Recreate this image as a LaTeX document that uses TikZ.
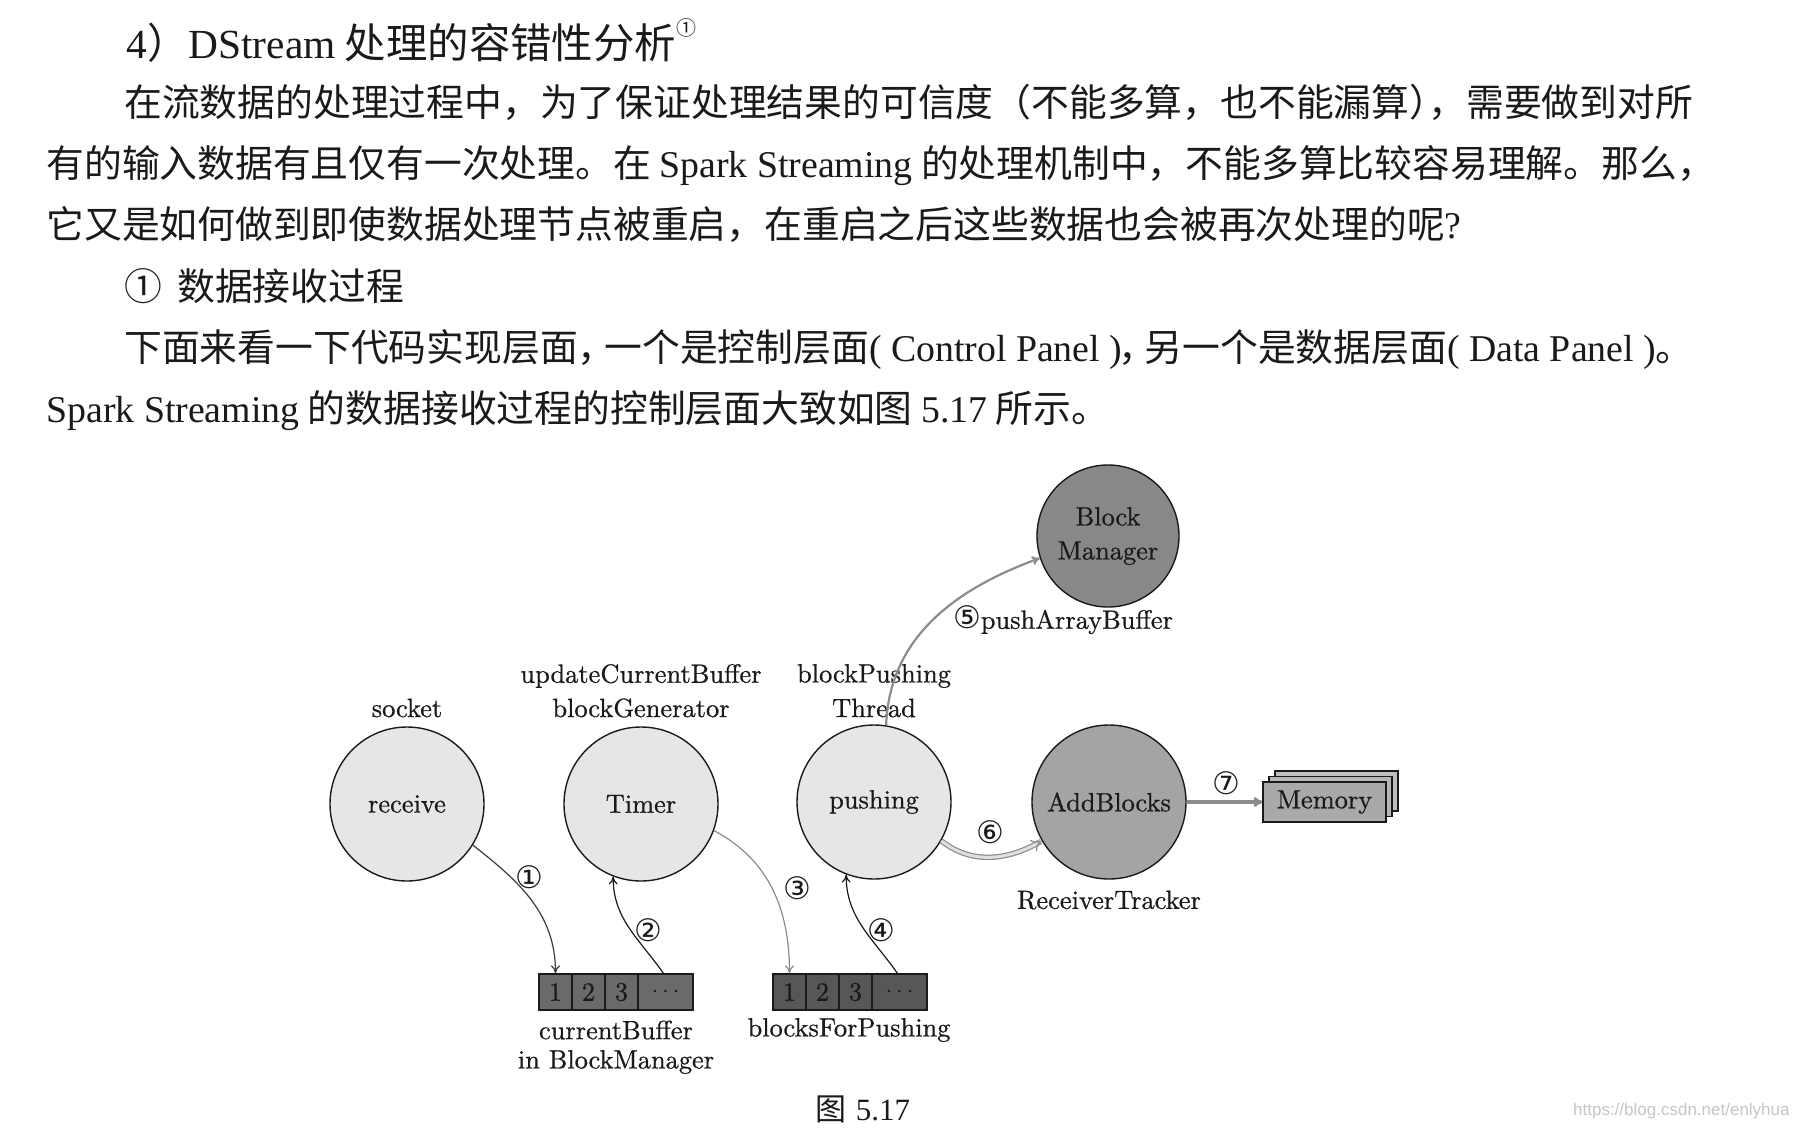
\documentclass[tikz,border=0pt]{standalone}
\usepackage{fontspec}
\newfontfamily\cjk{Noto Sans CJK SC}
\newfontfamily\tms{Liberation Serif}
\newfontfamily\dvs{DejaVu Sans}
\newfontfamily\wmf{Liberation Sans}
\newfontfamily\lmd{lmroman10-regular}[Extension=.otf, FakeBold=0.7]
\usetikzlibrary{arrows.meta}
\definecolor{ink}{HTML}{1A1A1A}
\definecolor{lightfill}{HTML}{E6E6E6}
\definecolor{addfill}{HTML}{A4A4A4}
\definecolor{bmfill}{HTML}{888888}
\definecolor{memfill}{HTML}{A9A9A9}
\definecolor{buf}{HTML}{6A6A6A}
\definecolor{bufdark}{HTML}{575757}
\definecolor{arrgray}{HTML}{8C8C8C}
\tikzset{
  bodyline/.style={anchor=base west, inner sep=0pt, font=\fontsize{18.9}{22}\selectfont\cjk, text=ink},
  lbl/.style={font=\lmd\fontsize{13.2}{16}\selectfont, text=ink, inner sep=0pt},
  proc/.style={circle, draw=ink, line width=0.7pt, minimum size=77pt, inner sep=0pt,
               font=\lmd\fontsize{13.2}{17}\selectfont, text=ink, align=center},
  cell/.style={draw=ink, line width=0.6pt, minimum height=18pt, inner sep=0pt,
               font=\lmd\fontsize{13.2}{16}\selectfont, text=ink},
  membox/.style={draw=ink, line width=0.6pt, minimum width=61.5pt, minimum height=20pt, inner sep=0pt},
  num/.style={font=\dvs\fontsize{15.5}{18}\selectfont, inner sep=0pt, text=ink},
  flow/.style={-{To[length=4pt,width=4.5pt]}, line width=0.6pt},
}
\begin{document}
\begin{tikzpicture}[x=0.5pt,y=0.5pt]
\fill[white] (0,0) rectangle (1796,-1136);
\useasboundingbox (0,0) rectangle (1796,-1136);

% ---- text ----
\node[bodyline] (t0) at (126,-58) {\fontsize{20.7}{24}\selectfont{\tms 4}）{\tms DStream} 处理的容错性分析\raisebox{0.55em}{\fontsize{10}{12}\selectfont ①}};
\node[bodyline] (p1) at (124,-116) {在流数据的处理过程中，为了保证处理结果的可信度（不能多算，也不能漏算）\hspace{-0.5em}，需要做到对所};
\node[bodyline] (p2) at (46,-177) {有的输入数据有且仅有一次处理。在 {\tms Spark Streaming} 的处理机制中，不能多算比较容易理解。那么，};
\node[bodyline] (p3) at (46,-238) {它又是如何做到即使数据处理节点被重启，在重启之后这些数据也会被再次处理的呢{\tms ?}};
\node[bodyline] (p4) at (124,-300) {①\hspace{0.4em}数据接收过程};
\node[bodyline] (p5) at (124,-361) {下面来看一下代码实现层面，\hspace{-0.3em}一个是控制层面{\tms ( Control Panel )}\hspace{-0.1em}，\hspace{-0.3em}另一个是数据层面{\tms ( Data Panel )}。};
\node[bodyline] (p6) at (46,-422) {{\tms Spark Streaming} 的数据接收过程的控制层面大致如图 {\tms 5.17} 所示。};

% ---- processes ----
\node[proc, fill=lightfill] (rcv) at (407,-804) {receive};
\node[proc, fill=lightfill] (tmr) at (641,-804) {Timer};
\node[proc, fill=lightfill] (psh) at (874,-802) {pushing};
\node[proc, fill=addfill] (add) at (1109,-802) {AddBlocks};
\node[proc, fill=bmfill, minimum size=71pt] (bm) at (1108,-536) {Block\\Manager};

% ---- labels ----
\node[lbl] (lsock) at (407,-708) {socket};
\node[lbl] (lupd) at (641,-676) {updateCurrentBuffer};
\node[lbl] (lgen) at (641,-708) {blockGenerator};
\node[lbl] (lbp) at (874,-676) {blockPushing};
\node[lbl] (lthr) at (874,-708) {Thread};
\node[lbl] (lrt) at (1109,-900) {ReceiverTracker};
\node[lbl] (lcb) at (616,-1030) {currentBuffer};
\node[lbl] (lin) at (616,-1062) {in BlockManager};
\node[lbl] (lbf) at (849,-1030) {blocksForPushing};
\node[lbl] (lpab) at (1063,-620) {{\dvs\fontsize{15.5}{18}\selectfont ⑤}pushArrayBuffer};

% ---- buffers ----
\node[cell, fill=buf, minimum width=16.5pt] (c1) at (555.5,-992) {1};
\node[cell, fill=buf, minimum width=16.5pt] (c2) at (588.5,-992) {2};
\node[cell, fill=buf, minimum width=16.5pt] (c3) at (621.5,-992) {3};
\node[cell, fill=buf, minimum width=27.5pt] (c4) at (665.5,-992) {$\cdots$};
\node[cell, fill=bufdark, minimum width=16.5pt] (b1) at (789.5,-992) {1};
\node[cell, fill=bufdark, minimum width=16.5pt] (b2) at (822.5,-992) {2};
\node[cell, fill=bufdark, minimum width=16.5pt] (b3) at (855.5,-992) {3};
\node[cell, fill=bufdark, minimum width=27.5pt] (b4) at (899.5,-992) {$\cdots$};

% ---- memory ----
\node[membox, fill=memfill!75] (mem3) at (1336.5,-791) {};
\node[membox, fill=memfill!85] (mem2) at (1330.5,-796.5) {};
\node[membox, fill=memfill, font=\lmd\fontsize{13.2}{16}\selectfont, text=ink] (mem) at (1324.5,-802) {Memory};

% ---- connectors ----
\draw[flow, draw=ink!85] (rcv.-32) to[out=-38,in=90] (c1.north);
\draw[flow, draw=ink] ([xshift=-1pt]c4.north) to[out=125,in=-90] (tmr.249);
\draw[flow, draw=arrgray] (tmr.-20) to[out=-28,in=90] (b1.north);
\draw[flow, draw=ink] ([xshift=-1pt]b4.north) to[out=125,in=-90] (psh.249);
\draw[flow, draw=arrgray, line width=1.1pt] (psh.81) to[out=88,in=200] (bm.198);
\draw[-{To[length=5pt,width=6.5pt]}, draw=arrgray, double=gray!25, double distance=1.5pt, line width=0.6pt]
  (psh.-30) to[out=-38,in=-150] (add.210);
\draw[-{To[length=4.5pt,width=5pt]}, draw=arrgray, line width=1.6pt] (add.east) -- (mem.west);

% ---- step numbers ----
\node[num] (n1) at (529,-877) {①};
\node[num] (n2) at (648,-930) {②};
\node[num] (n3) at (797,-888) {③};
\node[num] (n4) at (881,-930) {④};
\node[num] (n6) at (990,-832) {⑥};
\node[num] (n7) at (1226,-783) {⑦};

% ---- caption & watermark ----
\node[anchor=base west, inner sep=0pt, font=\fontsize{15.5}{18}\selectfont, text=ink] (cap) at (815,-1120) {{\cjk 图} {\tms 5.17}};
\node[anchor=east, inner sep=0pt, font=\wmf\fontsize{8.5}{10}\selectfont, text=gray!45] (wm) at (1790,-1111) {https://blog.csdn.net/enlyhua};
\end{tikzpicture}
\end{document}
